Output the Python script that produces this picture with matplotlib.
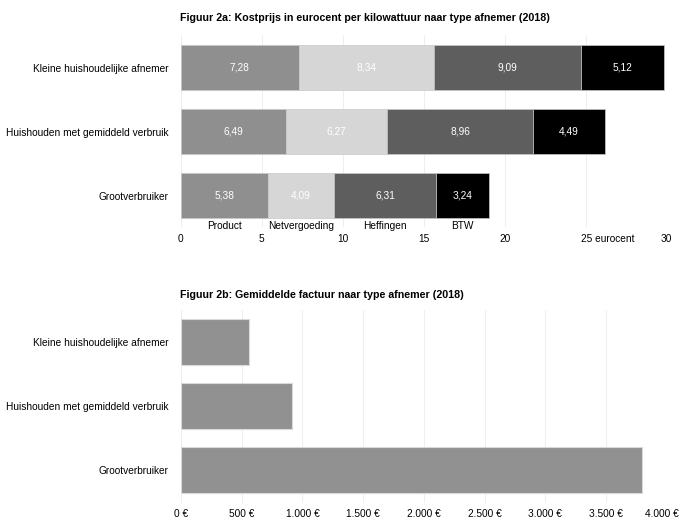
import matplotlib
matplotlib.use("Agg")
import matplotlib.pyplot as plt
import matplotlib.transforms as mtransforms

plt.rcParams['font.family'] = ['Liberation Sans', 'DejaVu Sans']

categories = ["Kleine huishoudelijke afnemer", "Huishouden met gemiddeld verbruik", "Grootverbruiker"]
components = ["Product", "Netvergoeding", "Heffingen", "BTW"]
product = [7.28, 6.49, 5.38]
netvergoeding = [8.34, 6.27, 4.09]
heffingen = [9.09, 8.96, 6.31]
btw = [5.12, 4.49, 3.24]
colors = ["#8f8f8f", "#d6d6d6", "#5e5e5e", "#000000"]
x_ticks_a = [0, 5, 10, 15, 20, 25, 30]

factuur = [563, 918, 3800]
x_ticks_b = [0, 500, 1000, 1500, 2000, 2500, 3000, 3500, 4000]
x_tick_labels_b = ["0 €", "500 €", "1.000 €", "1.500 €", "2.000 €", "2.500 €", "3.000 €", "3.500 €", "4.000 €"]

W, H = 681, 519
fig = plt.figure(figsize=(W / 100, H / 100), dpi=100)

def axes_px(left, top, right, bottom):
    return fig.add_axes([left / W, 1 - bottom / H, (right - left) / W, (bottom - top) / H])

fs = 7.3
tfs = 7.7
grid_c = "#efefef"

# ---- Figure 2a ----
ax = axes_px(180.7, 35, 666.7, 227)
ypos = [0, 1, 2]
series = [product, netvergoeding, heffingen, btw]
left = [0, 0, 0]
for vals, col in zip(series, colors):
    ax.barh(ypos, vals, left=left, height=0.71, color=col, edgecolor="#c8c8c8",
            linewidth=0.5, zorder=2)
    for y, v, l in zip(ypos, vals, left):
        ax.text(l + v / 2, y, f"{v:.2f}".replace(".", ","), ha="center", va="center",
                color="white", fontsize=fs, zorder=3)
    left = [a + b for a, b in zip(left, vals)]
ax.set_ylim(2.49, -0.508)
ax.set_xlim(0, 30)
ax.set_yticks(ypos)
ax.set_yticklabels(categories, fontsize=fs)
ax.set_xticks(x_ticks_a)
ax.set_xticklabels(["0", "5", "10", "15", "20", "", "30"], fontsize=fs)
ax.annotate("25 eurocent", xy=(25, 0), xycoords=("data", "axes fraction"),
            xytext=(-5, -7.5), textcoords="offset pixels", ha="left", va="top", fontsize=fs)
ax.tick_params(axis="both", length=0)
ax.tick_params(axis="x", pad=5.4)
ax.tick_params(axis="y", pad=9)
ax.grid(axis="x", color=grid_c, linewidth=0.8, zorder=0)
for s in ax.spines.values():
    s.set_visible(False)
# legend-like labels under the Grootverbruiker bar
lg = 0
for name, v in zip(components, [product[2], netvergoeding[2], heffingen[2], btw[2]]):
    ax.text(lg + v / 2, 2.477, name, ha="center", va="center", fontsize=fs, clip_on=False)
    lg += v
fig.text(180 / W, 1 - 18 / H, "Figuur 2a: Kostprijs in eurocent per kilowattuur naar type afnemer (2018)",
         ha="left", va="center", fontsize=tfs, fontweight="bold")

# ---- Figure 2b ----
ax2 = axes_px(181, 310, 666.7, 503)
ax2.barh(ypos, factuur, height=0.714, color="#919191", edgecolor="#d9d9d9", linewidth=0.8, zorder=2)
ax2.set_ylim(2.51, -0.503)
ax2.set_xlim(0, 4000)
ax2.set_yticks(ypos)
ax2.set_yticklabels(categories, fontsize=fs)
ax2.set_xticks(x_ticks_b)
ax2.set_xticklabels(x_tick_labels_b, fontsize=fs)
ax2.tick_params(axis="both", length=0)
ax2.tick_params(axis="x", pad=4)
ax2.tick_params(axis="y", pad=9)
ax2.grid(axis="x", color=grid_c, linewidth=0.8, zorder=0)
for s in ax2.spines.values():
    s.set_visible(False)
last = ax2.get_xticklabels()[-1]
last.set_transform(last.get_transform() + mtransforms.ScaledTranslation(-5 / 100, 0, fig.dpi_scale_trans))
fig.text(180 / W, 1 - 295 / H, "Figuur 2b: Gemiddelde factuur naar type afnemer (2018)",
         ha="left", va="center", fontsize=tfs, fontweight="bold")

fig.savefig("out.png", dpi=100, facecolor="white")
